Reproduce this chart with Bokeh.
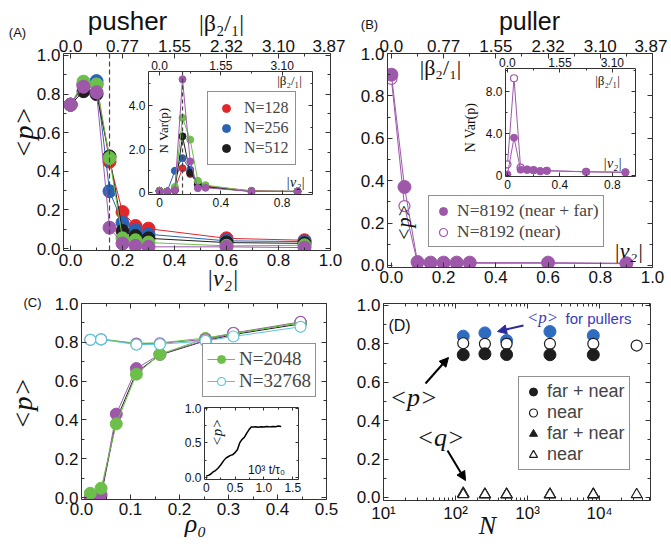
from bokeh.plotting import figure
from bokeh.models import (Range1d, LinearAxis, LogAxis, FixedTicker, Legend, LegendItem,
                          Span, Arrow, NormalHead, Column, CustomJSTickFormatter)
from bokeh.core.properties import value
from bokeh.embed import file_html
from bokeh.resources import INLINE

SANS = "Liberation Sans"
SERIF = "Liberation Serif"

# ---------------- data ----------------
nu = [0.0, 0.05, 0.1, 0.15, 0.2, 0.25, 0.3, 0.6, 0.9]
# panel A (pushers), <p>
pA_128 = [0.745, 0.85, 0.85, 0.45, 0.189, 0.117, 0.103, 0.053, 0.043]
pA_256 = [0.745, 0.85, 0.867, 0.297, 0.134, 0.094, 0.074, 0.040, 0.036]
pA_512 = [0.745, 0.815, 0.80, 0.477, 0.091, 0.065, 0.053, 0.031, 0.027]
pA_green = [0.745, 0.864, 0.85, 0.469, 0.053, 0.043, 0.031, 0.014, 0.017]
pA_purple = [0.745, 0.838, 0.81, 0.108, 0.026, 0.014, 0.009, 0.009, 0.005]
# panel A inset, N Var(p)
vA_128 = [0.08, 0.05, 0.15, 1.12, 0.85, 0.46, 0.30, 0.08, 0.05]
vA_256 = [0.08, 0.05, 1.00, 1.58, 1.05, 0.35, 0.25, 0.06, 0.05]
vA_512 = [0.08, 0.05, 0.10, 2.58, 0.90, 0.38, 0.26, 0.05, 0.05]
vA_green = [0.08, 0.05, 0.26, 3.43, 2.43, 0.54, 0.34, 0.06, 0.06]
vA_purple = [0.05, 0.04, 0.11, 5.20, 1.43, 0.20, 0.22, 0.05, 0.05]
# panel B (pullers)
pB_all = [0.90, 0.37, 0.016, 0.013, 0.013, 0.013, 0.013, 0.013, 0.010]
pB_near = [0.88, 0.28, 0.010, 0.010, 0.010, 0.010, 0.010, 0.010, 0.008]
vB_all = [0.10, 3.60, 0.55, 0.55, 0.50, 0.40, 0.45, 0.35, 0.30]
vB_near = [1.05, 9.27, 0.75, 0.55, 0.50, 0.42, 0.45, 0.35, 0.30]
# panel C
rho = [0.018, 0.04, 0.071, 0.112, 0.16, 0.253, 0.31, 0.447]
pC_2048_all = [0.022, 0.048, 0.38, 0.636, 0.738, 0.82, 0.846, 0.90]
pC_purple_all = [0.003, 0.014, 0.43, 0.665, 0.738, 0.81, 0.846, 0.90]
pC_black_all = [0.003, 0.010, 0.40, 0.645, 0.735, 0.808, 0.84, 0.895]
rho_near = [0.018, 0.04, 0.112, 0.16, 0.253, 0.31, 0.447]
pC_2048_near = [0.817, 0.817, 0.795, 0.797, 0.822, 0.845, 0.902]
pC_purple_near = [0.813, 0.815, 0.793, 0.795, 0.815, 0.848, 0.905]
pC_32768_near = [0.813, 0.815, 0.788, 0.790, 0.807, 0.830, 0.880]
# panel C inset: <p> vs 10^3 t/tau0
t_C = [0.0, 0.04, 0.08, 0.12, 0.16, 0.20, 0.25, 0.30, 0.34, 0.38, 0.42, 0.46, 0.50,
       0.54, 0.58, 0.62, 0.66, 0.70, 0.74, 0.78, 0.82, 0.86, 0.90, 0.95, 1.00, 1.05,
       1.10, 1.15, 1.20, 1.25, 1.30]
p_C = [0.02, 0.03, 0.05, 0.08, 0.10, 0.13, 0.18, 0.24, 0.28, 0.30, 0.32, 0.33, 0.36,
       0.40, 0.50, 0.55, 0.58, 0.64, 0.69, 0.73, 0.73, 0.735, 0.728, 0.735, 0.73, 0.74,
       0.733, 0.74, 0.735, 0.745, 0.74]
# panel D
N_all = [128, 256, 512, 2048, 8192]
N_near = [128, 256, 512, 2048, 8192, 32768]
pD_pullers = [0.84, 0.857, 0.817, 0.864, 0.843]
pD_near = [0.803, 0.80, 0.80, 0.80, 0.80, 0.791]
pD_all = [0.743, 0.748, 0.744, 0.743, 0.743]
qD_all = [0.02, 0.015, 0.015, 0.015, 0.015]
qD_near = [0.015, 0.015, 0.015, 0.015, 0.015, 0.015]

# tick values / labels
nu_ticks = [0.0, 0.2, 0.4, 0.6, 0.8, 1.0]
nu_minor = [0.1, 0.3, 0.5, 0.7, 0.9]
nu_labels = ["0.0", "0.2", "0.4", "0.6", "0.8", "1.0"]
beta_labels = ["0.0", "0.77", "1.55", "2.32", "3.10", "3.87"]
p_ticks = [0.0, 0.2, 0.4, 0.6, 0.8, 1.0]
p_minor = [0.1, 0.3, 0.5, 0.7, 0.9]
p_labels = ["0.0", "0.2", "0.4", "0.6", "0.8", "1.0"]
inset_nu_ticks = [0.0, 0.4, 0.8]
inset_nu_minor = [0.2, 0.6]
inset_nu_labels = ["0", "0.4", "0.8"]
inset_beta_labels = ["0.0", "1.55", "3.10"]
varA_ticks = [0.0, 2.0, 4.0]
varA_minor = [1.0, 3.0, 5.0]
varA_labels = ["0", "2.0", "4.0"]
varB_ticks = [0.0, 4.0, 8.0]
varB_minor = [2.0, 6.0, 10.0]
varB_labels = ["0", "4.0", "8.0"]
rho_ticks = [0.0, 0.1, 0.2, 0.3, 0.4, 0.5]
rho_minor = [0.05, 0.15, 0.25, 0.35, 0.45]
rho_labels = ["0.0", "0.1", "0.2", "0.3", "0.4", "0.5"]
t_ticks = [0.0, 0.5, 1.0, 1.5]
t_minor = [0.25, 0.75, 1.25]
t_labels = ["0", "0.5", "1.0", "1.5"]
pc_ticks = [0.0, 0.5, 1.0]
pc_minor = [0.25, 0.75]
pc_labels = ["0.0", "0.5", "1.0"]
N_ticks = [10.0, 100.0, 1000.0, 10000.0]
N_minor = [20, 30, 40, 50, 60, 70, 80, 90, 200, 300, 400, 500, 600, 700, 800, 900,
           2000, 3000, 4000, 5000, 6000, 7000, 8000, 9000, 20000, 30000, 40000, 50000]
N_labels = ["10\u00b9", "10\u00b2", "10\u00b3", "10\u2074"]

RED, BLUE, BLACK, GREEN, PURPLE, CYAN = "#e3262a", "#2a62b4", "#1e1e1e", "#6cc04a", "#9e58aa", "#5cc6d6"
AXC = "#333333"
# all figures share the same side borders (a Column aligns them anyway)
BL, BR = 50, 15


def base_fig(xr, yr, fw, fh, t, b, x_type="linear", bg=None):
    p = figure(x_range=xr, y_range=yr, frame_width=fw, frame_height=fh,
               min_border_left=BL, min_border_right=BR, min_border_top=t, min_border_bottom=b,
               x_axis_type=x_type, output_backend="svg", toolbar_location=None)
    p.xgrid.visible = False
    p.ygrid.visible = False
    p.outline_line_color = None
    p.border_fill_alpha = 0
    if bg:
        p.background_fill_color = bg
    else:
        p.background_fill_alpha = 0
    return p


def style_axis(ax, ticks, minor, labels, size, standoff=3, tin=5, mtin=3):
    ax.ticker = FixedTicker(ticks=ticks, minor_ticks=minor)
    if labels is None:
        ax.formatter = CustomJSTickFormatter(code="return ''")
    else:
        ax.major_label_overrides = dict(zip(ticks, labels))
    ax.major_tick_in = tin
    ax.major_tick_out = 0
    ax.minor_tick_in = mtin
    ax.minor_tick_out = 0
    ax.axis_line_color = AXC
    ax.major_tick_line_color = AXC
    ax.minor_tick_line_color = AXC
    ax.major_label_text_font = SANS
    ax.major_label_text_font_size = f"{size}px"
    ax.major_label_text_color = "#111111"
    ax.major_label_standoff = standoff


def four_axes(p, xt, xm, xl, xtop, yt, ym, yl, size, log=False, tin=5, mtin=3):
    style_axis(p.xaxis[0], xt, xm, xl, size, tin=tin, mtin=mtin)
    style_axis(p.yaxis[0], yt, ym, yl, size, tin=tin, mtin=mtin)
    top = LogAxis() if log else LinearAxis()
    p.add_layout(top, "above")
    style_axis(top, xt, xm, xtop, size, standoff=2, tin=tin, mtin=mtin)
    right = LinearAxis()
    p.add_layout(right, "right")
    style_axis(right, yt, ym, None, size, tin=tin, mtin=mtin)


def place(p, frame_left, top):
    p.styles = {"position": "absolute", "left": f"{frame_left - BL}px", "top": f"{top}px"}


def legend_style(lg, size, font=SERIF):
    lg.border_line_color = "#222222"
    lg.border_line_width = 1
    lg.background_fill_color = "white"
    lg.background_fill_alpha = 1
    lg.label_text_font = font
    lg.label_text_font_size = f"{size}px"
    lg.padding = 4
    lg.spacing = 0
    lg.margin = 0
    lg.label_standoff = 4
    lg.glyph_height = 20
    lg.glyph_width = 20
    lg.label_height = 20


# ---------------- panel A ----------------
pA = base_fig(Range1d(-0.027, 1.0), Range1d(-0.01, 1.01), 267, 197, 50, 30)
four_axes(pA, nu_ticks, nu_minor, nu_labels, beta_labels, p_ticks, p_minor, p_labels, 17)
pA.add_layout(Span(location=0.15, dimension="height", line_dash="5 3", line_color="#444444", line_width=1.2))
for ys, c in [(pA_128, RED), (pA_256, BLUE), (pA_512, BLACK), (pA_green, GREEN), (pA_purple, PURPLE)]:
    pA.line(nu, ys, line_color=c, line_width=1)
    pA.scatter(nu, ys, size=13, fill_color=c, line_color=c)
place(pA, 63, 3)

# inset A
iA = base_fig(Range1d(-0.072, 0.998), Range1d(-0.09, 5.56), 164, 123, 22, 20, bg="white")
four_axes(iA, inset_nu_ticks, inset_nu_minor, inset_nu_labels, inset_beta_labels,
          varA_ticks, varA_minor, varA_labels, 12, tin=4, mtin=2)
iA.add_layout(Span(location=0.15, dimension="height", line_dash="4 3", line_color="#444444", line_width=1.2))
legA = []
for ys, c, lab in [(vA_128, RED, "N=128"), (vA_256, BLUE, "N=256"), (vA_512, BLACK, "N=512"),
                   (vA_green, GREEN, None), (vA_purple, PURPLE, None)]:
    iA.line(nu, ys, line_color=c, line_width=1)
    r = iA.scatter(nu, ys, size=7, fill_color=c, line_color=c)
    if lab:
        legA.append(LegendItem(label=lab, renderers=[r]))
lgA = Legend(items=legA, location=(59, 29))
legend_style(lgA, 16)
lgA.padding = 6
lgA.glyph_width = 24
lgA.label_standoff = 6
iA.add_layout(lgA)
place(iA, 148, 49)

# ---------------- panel B ----------------
pB = base_fig(Range1d(-0.015, 1.0), Range1d(-0.01, 1.0), 265, 214, 50, 30)
four_axes(pB, nu_ticks, nu_minor, nu_labels, beta_labels, p_ticks, p_minor, p_labels, 17)
pB.line(nu, pB_near, line_color=PURPLE, line_width=1)
rBn = pB.scatter(nu, pB_near, size=11, fill_color="white", line_color=PURPLE, line_width=1.2)
pB.line(nu, pB_all, line_color=PURPLE, line_width=1)
rBa = pB.scatter(nu, pB_all, size=13, fill_color=PURPLE, line_color=PURPLE)
lgB = Legend(items=[LegendItem(label="N=8192 (near + far)", renderers=[rBa]),
                    LegendItem(label="N=8192 (near)", renderers=[rBn])], location=(41, 20))
legend_style(lgB, 17.5)
pB.add_layout(lgB)
place(pB, 387, 3)

iB = base_fig(Range1d(-0.015, 0.977), Range1d(-0.1, 10.2), 130, 108, 22, 20, bg="white")
four_axes(iB, inset_nu_ticks, inset_nu_minor, inset_nu_labels, inset_beta_labels,
          varB_ticks, varB_minor, varB_labels, 12, tin=4, mtin=2)
iB.line(nu, vB_near, line_color=PURPLE, line_width=1)
iB.scatter(nu, vB_near, size=7, fill_color="white", line_color=PURPLE, line_width=1.2)
iB.line(nu, vB_all, line_color=PURPLE, line_width=1)
iB.scatter(nu, vB_all, size=7, fill_color=PURPLE, line_color=PURPLE)
place(iB, 505, 46)

# ---------------- panel C ----------------
pC = base_fig(Range1d(0.0, 0.5), Range1d(-0.01, 1.0), 245, 196, 20, 40)
four_axes(pC, rho_ticks, rho_minor, rho_labels, None, p_ticks, p_minor, p_labels, 17)
pC.line(rho, pC_black_all, line_color=BLACK, line_width=1)
pC.line(rho, pC_purple_all, line_color=PURPLE, line_width=1)
pC.scatter(rho, pC_purple_all, size=12, fill_color=PURPLE, line_color=PURPLE)
lC1 = pC.line(rho, pC_2048_all, line_color=GREEN, line_width=1)
sC1 = pC.scatter(rho, pC_2048_all, size=12, fill_color=GREEN, line_color=GREEN)
pC.line(rho_near, pC_purple_near, line_color=PURPLE, line_width=1)
pC.scatter(rho_near, pC_purple_near, size=11, fill_color="white", line_color=PURPLE, line_width=1.2)
pC.line(rho_near, pC_2048_near, line_color=GREEN, line_width=1)
lC2 = pC.line(rho_near, pC_32768_near, line_color=CYAN, line_width=1)
sC2 = pC.scatter(rho_near, pC_32768_near, size=11, fill_color="white", line_color=CYAN, line_width=1.2)
lgC = Legend(items=[LegendItem(label="N=2048", renderers=[lC1, sC1]),
                    LegendItem(label="N=32768", renderers=[lC2, sC2])], location=(121, 102))
legend_style(lgC, 19)
lgC.glyph_width = 28
pC.add_layout(lgC)
place(pC, 81, 283)

iC = base_fig(Range1d(-0.03, 1.6), Range1d(-0.03, 1.014), 94, 72, 6, 18, bg="white")
four_axes(iC, t_ticks, t_minor, t_labels, None, pc_ticks, pc_minor, pc_labels, 12, tin=3, mtin=2)
iC.line(t_C, p_C, line_color="black", line_width=1.5)
place(iC, 204, 401)

# ---------------- panel D ----------------
pD = base_fig(Range1d(10, 51000), Range1d(-0.016, 1.01), 267, 197, 20, 40, x_type="log")
four_axes(pD, N_ticks, N_minor, N_labels, None, p_ticks, p_minor, p_labels, 17, log=True)
pD.scatter(N_all, pD_pullers, size=12, fill_color="#2f6cc0", line_color="#2f6cc0")
rDn = pD.scatter(N_near, pD_near, size=11, fill_color="white", line_color=BLACK, line_width=1.2)
rDa = pD.scatter(N_all, pD_all, size=12, fill_color=BLACK, line_color=BLACK)
rDqa = pD.scatter(N_all, qD_all, marker="triangle", size=12, fill_color=BLACK, line_color=BLACK)
rDqn = pD.scatter(N_near, qD_near, marker="triangle", size=11, fill_color="white", line_color=BLACK, line_width=1.2)
lgD = Legend(items=[LegendItem(label="far + near", renderers=[rDa]),
                    LegendItem(label="near", renderers=[rDn]),
                    LegendItem(label="far + near", renderers=[rDqa]),
                    LegendItem(label="near", renderers=[rDqn])], location=(135, 30))
legend_style(lgD, 18, font=SANS)
lgD.label_height = 21
lgD.glyph_height = 21
pD.add_layout(lgD)
place(pD, 383, 283)


# ---------------- overlays with free text (frames = left / right half of page, in px) ----------------
def overlay(x0, x1):
    o = figure(x_range=Range1d(x0, x1), y_range=Range1d(548, 0), frame_width=x1 - x0, frame_height=548,
               min_border_left=BL, min_border_right=BR, min_border_top=0, min_border_bottom=0,
               output_backend="svg", toolbar_location=None,
               x_axis_location=None, y_axis_location=None)
    o.grid.visible = False
    o.outline_line_color = None
    o.background_fill_alpha = 0
    o.border_fill_alpha = 0
    place(o, x0, 0)
    return o


ovL = overlay(0, 336)
ovR = overlay(336, 671)


def put(x, y, s, size, font=SERIF, style="normal", angle=0.0, color="#111111"):
    o = ovL if x < 336 else ovR
    o.text(x=[x], y=[y], text=[s], text_font=value(font), text_font_size=value(f"{size}px"),
           text_font_style=style, angle=angle, text_align="center", text_baseline="middle",
           text_color=color)


ROT = 1.5707963
put(17, 32, "(A)", 13, font=SANS)
put(369, 24, "(B)", 13, font=SANS)
put(32, 302, "(C)", 13, font=SANS)
put(399, 325, "(D)", 16, font=SANS)
put(127, 20, "pusher", 26, font=SANS)
put(221, 22, "|\u03b2\u2082/\u2081|", 24)
put(529, 20, "puller", 25, font=SANS)
put(23, 132, "<p>", 28, style="italic", angle=ROT)
put(222, 277, "|\u03bd\u2082|", 24, style="italic")
put(440, 67, "|\u03b2\u2082/\u2081|", 22)
put(628, 250, "|\u03bd\u2082|", 22, style="italic")
put(403, 222, "<p>", 20, style="italic", angle=ROT)
put(163, 130, "N Var(p)", 13, angle=ROT)
put(289, 80, "|\u03b2\u2082/\u2081|", 13)
put(295, 182, "|\u03bd\u2082|", 14, style="italic")
put(470, 127, "N Var(p)", 14, angle=ROT)
put(607, 80, "|\u03b2\u2082/\u2081|", 13)
put(612, 163, "|\u03bd\u2082|", 14, style="italic")
put(216, 432, "<p>", 15, style="italic", angle=ROT)
put(266, 469, "10\u00b3 t/\u03c4\u2080", 12, font=SANS)
put(22, 403, "<p>", 28, style="italic", angle=ROT)
put(195, 523, "\u03c1\u2080", 26, style="italic")
put(487, 525, "N", 26, style="italic")
put(413, 397, "<p>", 26, style="italic")
put(440, 437, "<q>", 26, style="italic")
put(542, 317, "<p>", 17, style="italic", color="#3a3ab8")
put(598, 318, "for pullers", 15, font=SANS, color="#3a3ab8")
ovR.add_layout(Arrow(x_start=523, y_start=325, x_end=497, y_end=331, line_color="#2b2b9e", line_width=2,
                     end=NormalHead(size=9, fill_color="#2b2b9e", line_color="#2b2b9e")))
ovR.add_layout(Arrow(x_start=425, y_start=383, x_end=448, y_end=357, line_color="black", line_width=2,
                     end=NormalHead(size=9, fill_color="black", line_color="black")))
ovR.add_layout(Arrow(x_start=447, y_start=450, x_end=465, y_end=480, line_color="black", line_width=2,
                     end=NormalHead(size=9, fill_color="black", line_color="black")))

root = Column(children=[pA, pB, pC, pD, iA, iB, iC, ovL, ovR], width=671, height=548,
              styles={"position": "relative", "overflow": "hidden"})

open("out.html", "w").write(file_html(root, INLINE))
